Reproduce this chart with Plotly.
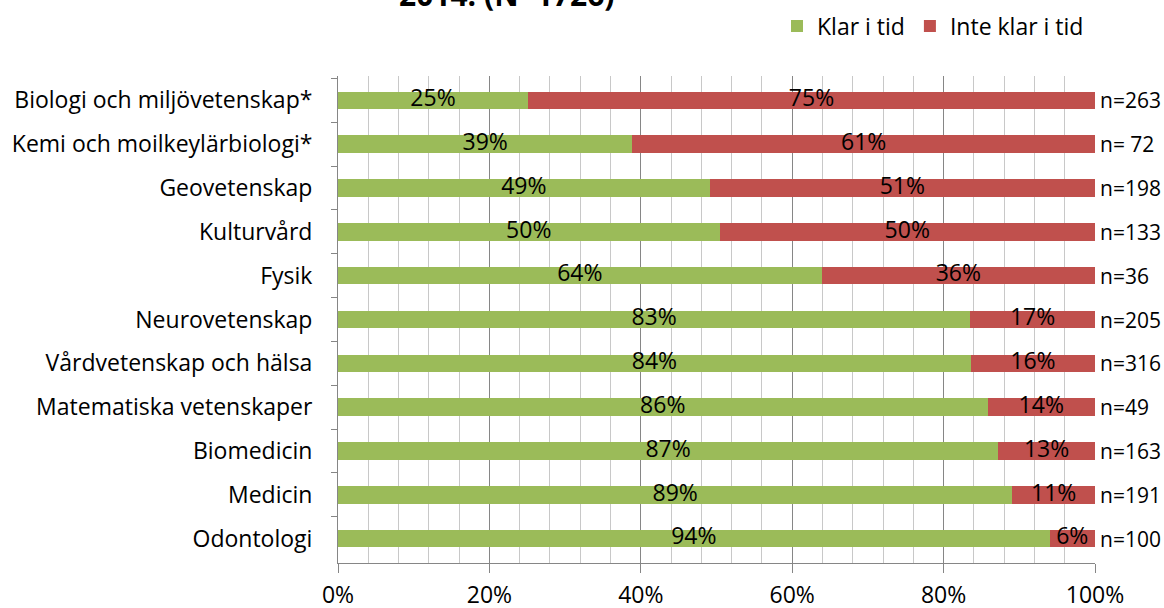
import plotly.graph_objects as go

categories = [
    "Biologi och miljövetenskap*",
    "Kemi och moilkeylärbiologi*",
    "Geovetenskap",
    "Kulturvård",
    "Fysik",
    "Neurovetenskap",
    "Vårdvetenskap och hälsa",
    "Matematiska vetenskaper",
    "Biomedicin",
    "Medicin",
    "Odontologi",
]
klar_values = [25.1, 38.9, 49.1, 50.4, 63.9, 83.5, 83.6, 85.8, 87.2, 89.1, 94.0]
inte_values = [74.9, 61.1, 50.9, 49.6, 36.1, 16.5, 16.4, 14.2, 12.8, 10.9, 6.0]
klar_labels = ["25%", "39%", "49%", "50%", "64%", "83%", "84%", "86%", "87%", "89%", "94%"]
inte_labels = ["75%", "61%", "51%", "50%", "36%", "17%", "16%", "14%", "13%", "11%", "6%"]
n_labels = ["n=263", "n= 72", "n=198", "n=133", "n=36", "n=205", "n=316", "n=49", "n=163", "n=191", "n=100"]
x_ticks = [0, 20, 40, 60, 80, 100]
x_ticktext = ["0%", "20%", "40%", "60%", "80%", "100%"]
title_text = "2014. (N=1726)"

GREEN = "#9BBB59"
RED = "#C0504D"
FONT = "Open Sans"
FS = 23

W, H = 1164, 608
ML, MR, MT, MB = 338, 69, 76, 45
plot_h = H - MT - MB
plot_w = W - ML - MR

fig = go.Figure()
fig.add_trace(go.Bar(
    y=categories, x=klar_values, orientation="h", name="Klar i tid",
    marker=dict(color=GREEN, line=dict(width=0)), hoverinfo="skip",
))
fig.add_trace(go.Bar(
    y=categories, x=inte_values, orientation="h", name="Inte klar i tid",
    marker=dict(color=RED, line=dict(width=0)), hoverinfo="skip",
))

# segment labels, centred in each segment
klar_mid = [k / 2 for k in klar_values]
inte_mid = [k + i / 2 for k, i in zip(klar_values, inte_values)]
fig.add_trace(go.Scatter(
    y=categories, x=klar_mid, mode="text", text=klar_labels,
    textposition="middle center", textfont=dict(size=FS, color="black", family=FONT),
    showlegend=False, hoverinfo="skip", cliponaxis=False,
))
fig.add_trace(go.Scatter(
    y=categories, x=inte_mid, mode="text", text=inte_labels,
    textposition="middle center", textfont=dict(size=FS, color="black", family=FONT),
    showlegend=False, hoverinfo="skip", cliponaxis=False,
))

# n labels just right of the 100% edge
for cat, lab in zip(categories, n_labels):
    fig.add_annotation(
        x=100, y=cat, xref="x", yref="y", text=lab, showarrow=False,
        xanchor="left", yanchor="middle", xshift=3,
        font=dict(size=21, family=FONT, color="black"),
    )

fig.add_annotation(
    text="<b>" + title_text + "</b>", xref="paper", yref="paper",
    x=(506 - ML) / plot_w, xanchor="center",
    y=(H - MB - 17) / plot_h, yanchor="bottom", showarrow=False,
    font=dict(size=30, family=FONT, color="black"),
)

fig.update_layout(
    width=W, height=H,
    margin=dict(l=ML, r=MR, t=MT, b=MB, autoexpand=False),
    paper_bgcolor="white", plot_bgcolor="white",
    barmode="stack", bargap=0.6,
    font=dict(family=FONT, size=FS, color="black"),
    legend=dict(orientation="h", xref="container", x=1089 / W, xanchor="right",
                yref="container", y=1 - 26 / H, yanchor="middle",
                font=dict(size=FS, family=FONT), traceorder="normal",
                itemwidth=30, bgcolor="rgba(0,0,0,0)", borderwidth=0),
    xaxis=dict(
        range=[0, 100], tickvals=x_ticks, ticktext=x_ticktext,
        ticks="outside", ticklen=9, tickcolor="#868686",
        showline=True, linecolor="#868686", linewidth=1,
        showgrid=True, gridcolor="#868686", gridwidth=1, zeroline=False,
        minor=dict(dtick=4, showgrid=True, gridcolor="#C8C8C8", gridwidth=1, ticks=""),
        tickfont=dict(size=FS, family=FONT), ticklabelstandoff=2, automargin=False,
    ),
    yaxis=dict(
        type="category", categoryarray=categories, autorange="reversed",
        ticks="outside", tickson="boundaries", ticklen=6, tickcolor="#868686",
        showline=True, linecolor="#868686", linewidth=1, showgrid=False,
        tickfont=dict(size=FS, family=FONT), ticklabelstandoff=20, automargin=False,
    ),
)

# remove the default page margin so the 1164x608 figure fills the window exactly
fig.write_html(
    "out.html",
    config={"displayModeBar": False},
    post_script="document.body.style.margin='0';document.body.style.overflow='hidden';",
)
